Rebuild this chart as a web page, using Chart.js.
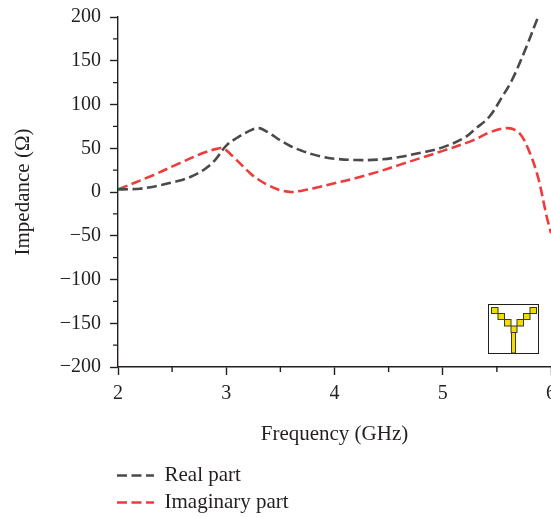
<!DOCTYPE html>
<html>
<head>
<meta charset="utf-8">
<title>Impedance</title>
<script src="https://cdn.jsdelivr.net/npm/chart.js@4"></script>
<style>
  html, body { margin: 0; padding: 0; width: 551px; height: 517px; overflow: hidden; background: #fff; }
  #wrap { position: relative; width: 551px; height: 517px; overflow: hidden; }
  #chart { position: absolute; left: 0; top: 0; }
  #inset { position: absolute; left: 488px; top: 304px; }
</style>
</head>
<body>
<div id="wrap">
  <canvas id="chart" width="600" height="517"></canvas>
  <!-- small antenna sketch in the lower right corner -->
  <svg id="inset" width="51" height="50" viewBox="0 0 51 50">
    <rect x="0.5" y="0.5" width="50" height="49" fill="#fff" stroke="#231f20" stroke-width="1"/>
    <g fill="#f4dc00" stroke="#3a3a30" stroke-width="1">
      <rect x="23.5" y="28" width="4" height="21"/>
      <rect x="3.5" y="3.5" width="6.5" height="6"/>
      <rect x="10" y="9.5" width="6.5" height="6"/>
      <rect x="16.5" y="15.5" width="6.5" height="6.5"/>
      <rect x="23" y="22" width="6" height="6.5"/>
      <rect x="29" y="15.5" width="6.5" height="6.5"/>
      <rect x="35.5" y="9.5" width="6.5" height="6"/>
      <rect x="42" y="3.5" width="6.5" height="6"/>
    </g>
  </svg>
</div>
<script>
// ---- data ----
const realFreq = [2, 2.1, 2.2, 2.3, 2.4, 2.5, 2.6, 2.7, 2.8, 2.9, 3, 3.1, 3.2, 3.3, 3.4, 3.5, 3.6, 3.7, 3.8, 3.9, 4, 4.2, 4.4, 4.6, 4.8, 5, 5.2, 5.3, 5.43, 5.55, 5.64, 5.76, 5.88];
const realVals = [3, 3.2, 3.8, 5.5, 8, 11, 14, 19, 26, 37, 53, 62, 69, 73, 67, 59, 52, 47, 43, 40, 38, 36.5, 37, 40, 45, 51, 62, 72, 86, 109, 128, 162, 200];

const imagFreq = [2, 2.33, 2.57, 2.785, 2.9, 2.97, 3.05, 3.22, 3.3, 3.4, 3.5, 3.6, 3.7, 3.8, 4, 4.2, 4.4, 4.6, 4.8, 5, 5.28, 5.43, 5.6, 5.71, 5.8, 5.88, 5.96, 6];
const imagVals = [3, 19.5, 33, 44.5, 49, 50, 42, 21.5, 14, 7, 2, 0, 1.5, 4, 10, 16, 23, 31, 39, 47, 59, 68, 73, 67, 46, 17, -28, -47];

const xTicks = [2, 3, 4, 5, 6];
const xMinorTicks = [2.5, 3.5, 4.5, 5.5];
const yTicks = [200, 150, 100, 50, 0, -50, -100, -150, -200];
const yMinorTicks = [175, 125, 75, 25, -25, -75, -125, -175];

const seriesNames = ['Real part', 'Imaginary part'];
const seriesColors = ['#4a4a4a', '#ee3b3b'];

const INK = '#231f20';
const FONT = 'Liberation Serif';
const DASH = [10, 4.5];
const LEGEND_WIDTH = 190;

function toPoints(xs, ys) {
  return xs.map((x, i) => ({ x: x, y: ys[i] }));
}

// Chart.js has one tick length per axis, so the short ticks are added here
const minorTicksPlugin = {
  id: 'minorTicks',
  afterDraw(chart) {
    const { ctx, scales: { x, y } } = chart;
    ctx.save();
    ctx.strokeStyle = INK;
    ctx.lineWidth = 1.4;
    ctx.beginPath();
    xMinorTicks.forEach(v => {
      const px = x.getPixelForValue(v);
      ctx.moveTo(px, y.bottom);
      ctx.lineTo(px, y.bottom + 5);
    });
    yMinorTicks.forEach(v => {
      const py = y.getPixelForValue(v);
      ctx.moveTo(x.left, py);
      ctx.lineTo(x.left - 5, py);
    });
    ctx.stroke();
    ctx.restore();
  }
};

// stacked legend under the x axis title, aligned with the plot's left edge.
// the legend wraps on the layout width, so narrow it just before it measures
const legendPlacePlugin = {
  id: 'legendPlace',
  beforeLayout(chart) {
    const lg = chart.legend;
    if (lg.fit === Object.getPrototypeOf(lg).fit) {
      const baseFit = lg.fit;
      lg.fit = function () {
        this.maxWidth = LEGEND_WIDTH;
        baseFit.call(this);
      };
    }
  },
  afterLayout(chart) {
    const lg = chart.legend;
    lg.left = 111;
    lg.right = 111 + LEGEND_WIDTH;
    lg.width = LEGEND_WIDTH;
    lg.top = 459;
  }
};

new Chart(document.getElementById('chart'), {
  type: 'line',
  data: {
    datasets: [
      { label: seriesNames[0], data: toPoints(realFreq, realVals), borderColor: seriesColors[0] },
      { label: seriesNames[1], data: toPoints(imagFreq, imagVals), borderColor: seriesColors[1] }
    ]
  },
  options: {
    responsive: false,
    animation: false,
    parsing: false,
    layout: { padding: { top: 17, right: 49, bottom: 0, left: 0 } },
    elements: {
      point: { radius: 0 },
      line: { borderWidth: 2.6, borderDash: DASH, tension: 0.35, fill: false }
    },
    plugins: {
      tooltip: { enabled: false },
      legend: {
        position: 'bottom',
        align: 'start',
        labels: {
          usePointStyle: true,
          pointStyle: 'line',
          pointStyleWidth: 37,
          padding: 6,
          color: INK,
          font: { family: FONT, size: 21 },
          generateLabels(chart) {
            return chart.data.datasets.map((ds, i) => ({
              text: ds.label,
              datasetIndex: i,
              fontColor: INK,
              strokeStyle: ds.borderColor,
              fillStyle: ds.borderColor,
              lineWidth: 2.6,
              lineDash: DASH,
              pointStyle: 'line'
            }));
          }
        }
      }
    },
    scales: {
      x: {
        type: 'linear',
        min: 2,
        max: 6,
        afterBuildTicks: s => { s.ticks = xTicks.map(v => ({ value: v })); },
        afterFit: s => { s.height = 86; },
        grid: { drawOnChartArea: false, tickLength: 8, tickColor: INK, tickWidth: 1.4 },
        border: { color: INK, width: 1.4 },
        ticks: { color: INK, padding: 7, maxRotation: 0, autoSkip: false, font: { family: FONT, size: 20 } },
        title: {
          display: true,
          text: 'Frequency (GHz)',
          color: INK,
          font: { family: FONT, size: 21 },
          align: 'center',
          padding: { top: 0, bottom: 5.5 }
        }
      },
      y: {
        min: -200,
        max: 200,
        afterBuildTicks: s => { s.ticks = yTicks.map(v => ({ value: v })); },
        afterFit: s => {
          s.width = 118;
          s.paddingTop = 0;   // top label may sit in the page margin
          s.paddingBottom = 0;
        },
        grid: { drawOnChartArea: false, tickLength: 8, tickColor: INK, tickWidth: 1.4 },
        border: { color: INK, width: 1.4 },
        ticks: {
          color: INK,
          padding: 9,
          autoSkip: false,
          font: { family: FONT, size: 20 },
          callback: v => (v < 0 ? '\u2212' + Math.abs(v) : String(v))
        },
        title: {
          display: true,
          text: 'Impedance (\u03a9)',
          color: INK,
          font: { family: FONT, size: 21 },
          padding: { top: 10.5, bottom: 0 }
        }
      }
    }
  },
  plugins: [minorTicksPlugin, legendPlacePlugin]
});
</script>
</body>
</html>
